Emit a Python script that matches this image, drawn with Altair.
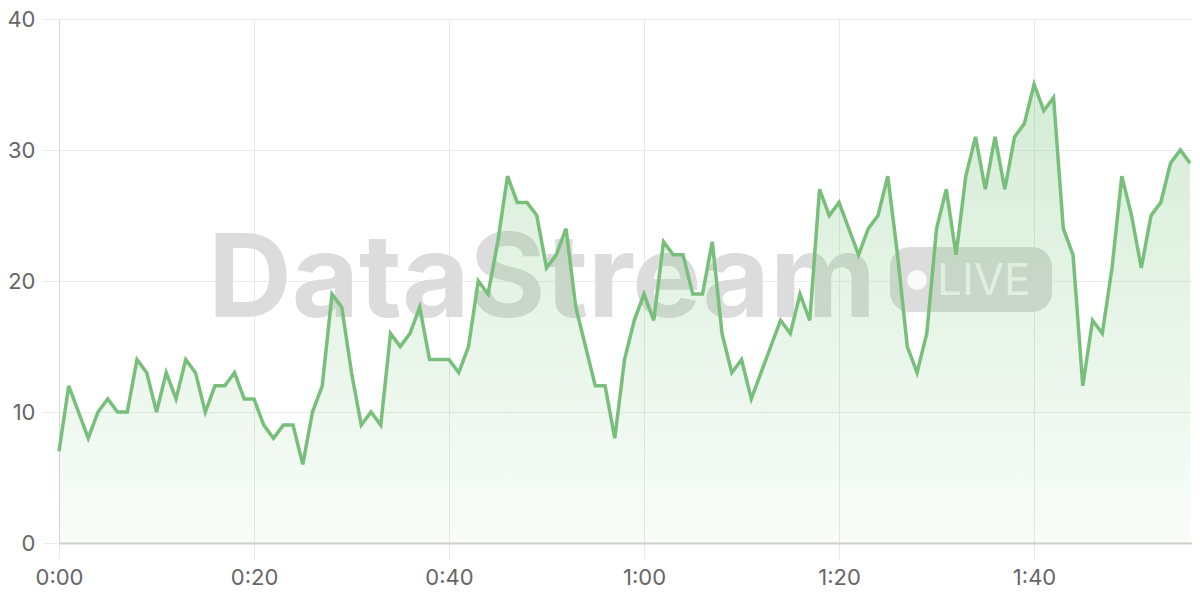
import altair as alt
import pandas as pd

# ---- data ----
seconds = list(range(117))
values = [
    7, 12, 10, 8, 10, 11, 10, 10, 14, 13,
    10, 13, 11, 14, 13, 10, 12, 12, 13, 11,
    11, 9, 8, 9, 9, 6, 10, 12, 19, 18,
    13, 9, 10, 9, 16, 15, 16, 18, 14, 14,
    14, 13, 15, 20, 19, 23, 28, 26, 26, 25,
    21, 22, 24, 18, 15, 12, 12, 8, 14, 17,
    19, 17, 23, 22, 22, 19, 19, 23, 16, 13,
    14, 11, 13, 15, 17, 16, 19, 17, 27, 25,
    26, 24, 22, 24, 25, 28, 22, 15, 13, 16,
    24, 27, 22, 28, 31, 27, 31, 27, 31, 32,
    35, 33, 34, 24, 22, 12, 17, 16, 21, 28,
    25, 21, 25, 26, 29, 30, 29,
]
x_ticks = [0, 20, 40, 60, 80, 100]
y_ticks = [0, 10, 20, 30, 40]
x_max = 116.2
watermark = ["DataStream"]
badge = ["LIVE"]

df = pd.DataFrame({"t": seconds, "v": values})

LINE = "#78bf7b"
FONT = "Inter"

x_enc = alt.X(
    "t:Q",
    scale=alt.Scale(domain=[0, x_max], nice=False, zero=False),
    axis=alt.Axis(
        values=x_ticks,
        labelExpr="floor(datum.value/60) + ':' + (datum.value % 60 < 10 ? '0' : '') + (datum.value % 60)",
        title=None,
        grid=True,
        gridColor="#e8e8e8",
        tickColor="#e8e8e8",
        tickSize=16,
        domainColor="#cdcdcd",
        domainWidth=2,
        labelFont=FONT,
        labelFontSize=22,
        labelColor="#666666",
        labelPadding=8,
        labelFlush=False,
    ),
)
y_enc = alt.Y(
    "v:Q",
    scale=alt.Scale(domain=[0, 40], nice=False),
    axis=alt.Axis(
        values=y_ticks,
        title=None,
        grid=True,
        gridColor="#ebebeb",
        tickColor="#ebebeb",
        tickSize=16,
        domainColor="#d8d8d8",
        labelFont=FONT,
        labelFontSize=22,
        labelColor="#666666",
        labelPadding=8,
    ),
)

wm = alt.Chart(pd.DataFrame({"label": watermark})).mark_text(
    font=FONT, fontSize=116, fontWeight="bold", color="#dcdcdc",
    align="left", baseline="alphabetic",
).encode(text="label:N", x=alt.value(149), y=alt.value(298))

badge_df = pd.DataFrame({"label": badge})
badge_rect = alt.Chart(badge_df).mark_rect(cornerRadius=20, color="#dcdcdc").encode(
    x=alt.value(831), x2=alt.value(993), y=alt.value(228), y2=alt.value(293)
)
badge_dot = alt.Chart(badge_df).mark_circle(size=400, color="white", opacity=0.85).encode(
    x=alt.value(858), y=alt.value(261)
)
badge_text = alt.Chart(badge_df).mark_text(
    font=FONT, fontSize=44, color="white", opacity=0.85,
    align="left", baseline="alphabetic",
).encode(text="label:N", x=alt.value(878), y=alt.value(276))

grad = alt.Gradient(
    gradient="linear",
    stops=[
        alt.GradientStop(color="rgba(102,187,106,0.28)", offset=0),
        alt.GradientStop(color="rgba(102,187,106,0.04)", offset=1),
    ],
    x1=0, x2=0, y1=0, y2=1,
)

base = alt.Chart(df)
area = base.mark_area(color=grad, interpolate="linear").encode(x=x_enc, y=y_enc)
line = base.mark_line(color=LINE, strokeWidth=3.5, interpolate="linear").encode(x=x_enc, y=y_enc)

chart = alt.layer(wm, badge_rect, badge_dot, badge_text, area, line).properties(
    width=1133,
    height=524,
    autosize=alt.AutoSizeParams(type="none"),
    padding={"left": 51, "top": 11, "right": 0, "bottom": 49},
    background="white",
).configure_view(stroke=None)

chart.save("out.html", embed_options={"renderer": "svg", "actions": False})
